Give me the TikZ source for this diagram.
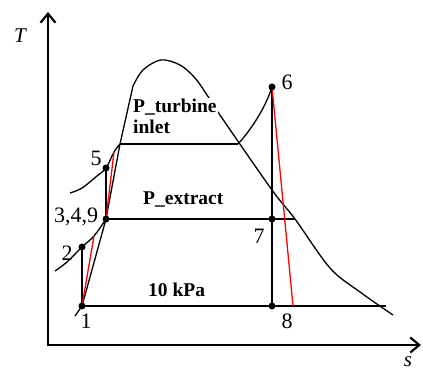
\documentclass[tikz,border=0pt]{standalone}
\usepackage{fontspec}
\setmainfont{Liberation Serif}
\usetikzlibrary{arrows.meta}
\tikzstyle{axis}=[line width=2.2pt, {Straight Barb[length=9pt,width=15pt]}-{Straight Barb[length=9pt,width=15pt]}]
\tikzstyle{curve}=[line width=1.3pt, line join=round]
\tikzstyle{actual}=[red, line width=1.3pt]
\tikzstyle{num}=[inner sep=0pt, font=\fontsize{22}{22}\selectfont]
\tikzstyle{press}=[inner sep=1pt, font=\bfseries\fontsize{19.5}{21}\selectfont]

\begin{document}
\begin{tikzpicture}[x=1pt,y=-1pt]
	\useasboundingbox (0,0) rectangle (423,371);

	\coordinate (o) at (48,345);
	\coordinate (ytip) at (48,12);
	\coordinate (xtip) at (421,345);

	\coordinate (s1) at (82,306);
	\coordinate (s2) at (82,247);
	\coordinate (s2a) at (94,236);
	\coordinate (s349) at (106,219);
	\coordinate (s5) at (106,168);
	\coordinate (s5a) at (114,152);
	\coordinate (s6) at (272,87);
	\coordinate (s7) at (272,219);
	\coordinate (s8) at (272,306);
	\coordinate (s8a) at (293,306);

	\coordinate (ti) at (120,144);
	\coordinate (tr) at (238,144);
	\coordinate (sg) at (295,219);
	\coordinate (cnd) at (386,306);

	\draw[axis] (ytip) -- (o) -- (xtip);
	\node[font=\itshape\fontsize{21}{21}\selectfont] (tlab) at (20,36) {T};
	\node[font=\itshape\fontsize{21}{21}\selectfont] (slab) at (408,362) {s};

	\draw[curve] (75,316) -- (s1) -- (s349) -- (ti) -- plot[smooth, tension=0.55] coordinates {(133,86) (143,70) (161,60) (180,65) (195,78) (207,95) (222,118) (272,190) (sg) (330,268) (360,292) (393,315)};

	\draw[curve] plot[smooth, tension=0.6] coordinates {(55,271) (67,262) (s2) (s2a) (s349)};
	\draw[curve] plot[smooth, tension=0.6] coordinates {(70,193) (82,188) (97,176) (s5) (s5a) (ti)};
	\draw[curve] (tr) .. controls (250,131) and (265,109) .. (s6);

	\draw[curve] (ti) -- (tr);
	\draw[curve] (s349) -- (sg);
	\draw[curve] (s1) -- (cnd);

	\draw[curve] (s1) -- (s2);
	\draw[curve] (s349) -- (s5);
	\draw[curve] (s6) -- (s7) -- (s8);

	\draw[actual] (s1) -- (s2a);
	\draw[actual] (s349) -- (s5a);
	\draw[actual] (s6) -- (s8a);

	\fill[black] (s1) circle [radius=3.5pt];
	\fill[black] (s2) circle [radius=3.5pt];
	\fill[black] (s349) circle [radius=3.5pt];
	\fill[black] (s5) circle [radius=3.5pt];
	\fill[black] (s6) circle [radius=3.5pt];
	\fill[black] (s7) circle [radius=3.5pt];
	\fill[black] (s8) circle [radius=3.5pt];

	\node[num] (l1) at (86,321) {1};
	\node[num] (l2) at (67,253) {2};
	\node[num] (l349) at (76,217) {3,4,9};
	\node[num] (l5) at (96,158) {5};
	\node[num] (l6) at (287,82) {6};
	\node[num] (l7) at (259,236) {7};
	\node[num] (l8) at (287,321) {8};

	\node[press, fill=white, anchor=base west] (pt1) at (132,113) {P\_turbine};
	\node[press, anchor=base west] (pt2) at (132,134) {inlet};
	\node[press, anchor=base west] (pe) at (142,205) {P\_extract};
	\node[press, anchor=base west] (pk) at (147,297) {10 kPa};
\end{tikzpicture}
\end{document}
